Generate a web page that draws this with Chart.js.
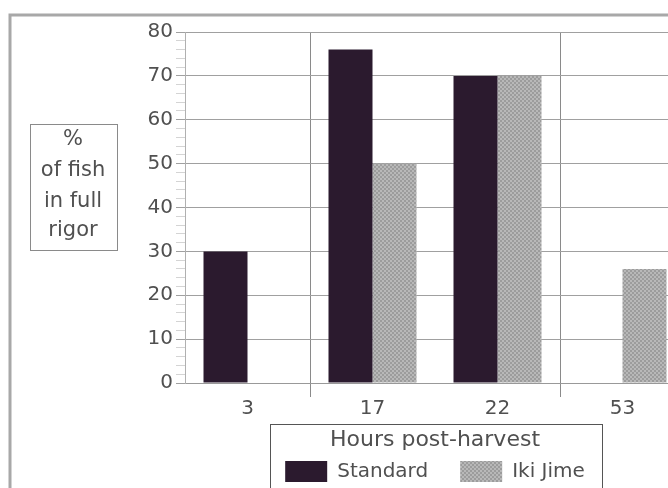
<!DOCTYPE html>
<html><head><meta charset="utf-8">
<script src="https://cdn.jsdelivr.net/npm/chart.js@4"></script>
<style>html,body{margin:0;padding:0;overflow:hidden;background:#fff}#wrap{width:700px;height:488px}</style>
</head><body><div id="wrap"><canvas id="c" width="700" height="488"></canvas></div>
<script>
const categories = ['3', '17', '22', '53'];
const standardValues = [30, 76, 70, null];
const ikiJimeValues = [null, 50, 70, 26];
const seriesLabels = ['Standard', 'Iki Jime'];
const xTitle = 'Hours post-harvest';
const yTitleLines = ['%', 'of fish', 'in full', 'rigor'];
const yMin = 0, yMax = 80, yMajorStep = 10, yMinorStep = 2;

const F = '"DejaVu Sans", sans-serif';
const TXT = '#505050';
const canvas = document.getElementById('c');
const ctx0 = canvas.getContext('2d');

function checker() {
  const p = document.createElement('canvas');
  p.width = 4; p.height = 4;
  const g = p.getContext('2d');
  g.fillStyle = '#b8b8b8'; g.fillRect(0, 0, 4, 4);
  g.fillStyle = '#9c9c9c'; g.fillRect(0, 0, 2, 2); g.fillRect(2, 2, 2, 2);
  return ctx0.createPattern(p, 'repeat');
}

const decor = {
  id: 'decor',
  beforeDraw(chart) {
    const c = chart.ctx;
    c.save();
    c.fillStyle = '#fff'; c.fillRect(0, 0, chart.width, chart.height);
    c.strokeStyle = '#a8a8a8'; c.lineWidth = 3;
    c.beginPath(); c.moveTo(10, 488); c.lineTo(10, 15); c.lineTo(chart.width, 15); c.stroke();
    // y title box
    c.strokeStyle = '#8a8a8a'; c.lineWidth = 1;
    c.strokeRect(30.5, 124.5, 87, 126);
    c.fillStyle = TXT; c.textAlign = 'center'; c.textBaseline = 'middle';
    c.font = '21px ' + F;
    const ys = [140, 171, 202, 231];
    yTitleLines.forEach((t, i) => c.fillText(t, 73, ys[i]));
    c.restore();
  },
  afterDraw(chart) {
    const lg = chart.legend;
    if (!lg || !lg.legendHitBoxes) return;
    const hb = lg.legendHitBoxes;
    const l = Math.min(...hb.map(h => h.left)) - 15;
    const r = Math.max(...hb.map(h => h.left + h.width)) + 17;
    const c = chart.ctx;
    c.save();
    c.strokeStyle = '#555'; c.lineWidth = 1;
    c.strokeRect(Math.round(l) + 0.5, Math.round(lg.top) + 0.5, Math.round(r - l), 80);
    c.restore();
  }
};

new Chart(canvas, {
  type: 'bar',
  data: {
    labels: categories,
    datasets: [
      { label: seriesLabels[0], data: standardValues, backgroundColor: '#2b1a2e', borderWidth: 0 },
      { label: seriesLabels[1], data: ikiJimeValues, backgroundColor: checker(), borderWidth: 0 }
    ]
  },
  options: {
    responsive: false, animation: false, devicePixelRatio: 1,
    categoryPercentage: 0.704, barPercentage: 1,
    layout: { padding: { top: 32, right: 15, left: 0, bottom: -4 } },
    plugins: {
      legend: {
        position: 'bottom', fullSize: false,
        title: { display: true, text: xTitle, color: TXT, font: { family: F, size: 22, lineHeight: 0 }, padding: { top: 5, bottom: 0 } },
        labels: { boxWidth: 42, boxHeight: 21, color: TXT, font: { family: F, size: 20 }, padding: 32 }
      },
      tooltip: { enabled: false }
    },
    scales: {
      x: {
        grid: {
          offset: true,
          color: c => (c.index === 1 || c.index === 3) ? '#8a8a8a' : 'rgba(0,0,0,0)',
          tickColor: c => (c.index === 1 || c.index === 3) ? '#8a8a8a' : 'rgba(0,0,0,0)',
          tickLength: 14
        },
        border: { display: true, color: '#999' },
        ticks: { color: TXT, font: { family: F, size: 20 }, padding: 0 },
        afterFit: s => { s.height = 41; }
      },
      y: {
        min: yMin, max: yMax,
        ticks: {
          stepSize: yMinorStep, autoSkip: false,
          callback: v => (v % yMajorStep === 0 ? v : ''),
          color: TXT, font: { family: F, size: 20 }, padding: 3
        },
        grid: {
          color: c => (c.tick && c.tick.value % yMajorStep === 0) ? '#a0a0a0' : 'rgba(0,0,0,0)',
          tickColor: c => (c.tick && c.tick.value % yMajorStep === 0) ? '#a0a0a0' : '#d4d4d4',
          tickLength: 9
        },
        border: { color: '#b0b0b0' },
        afterFit: s => { s.width = 185; }
      }
    }
  },
  plugins: [decor]
});
</script></body></html>
